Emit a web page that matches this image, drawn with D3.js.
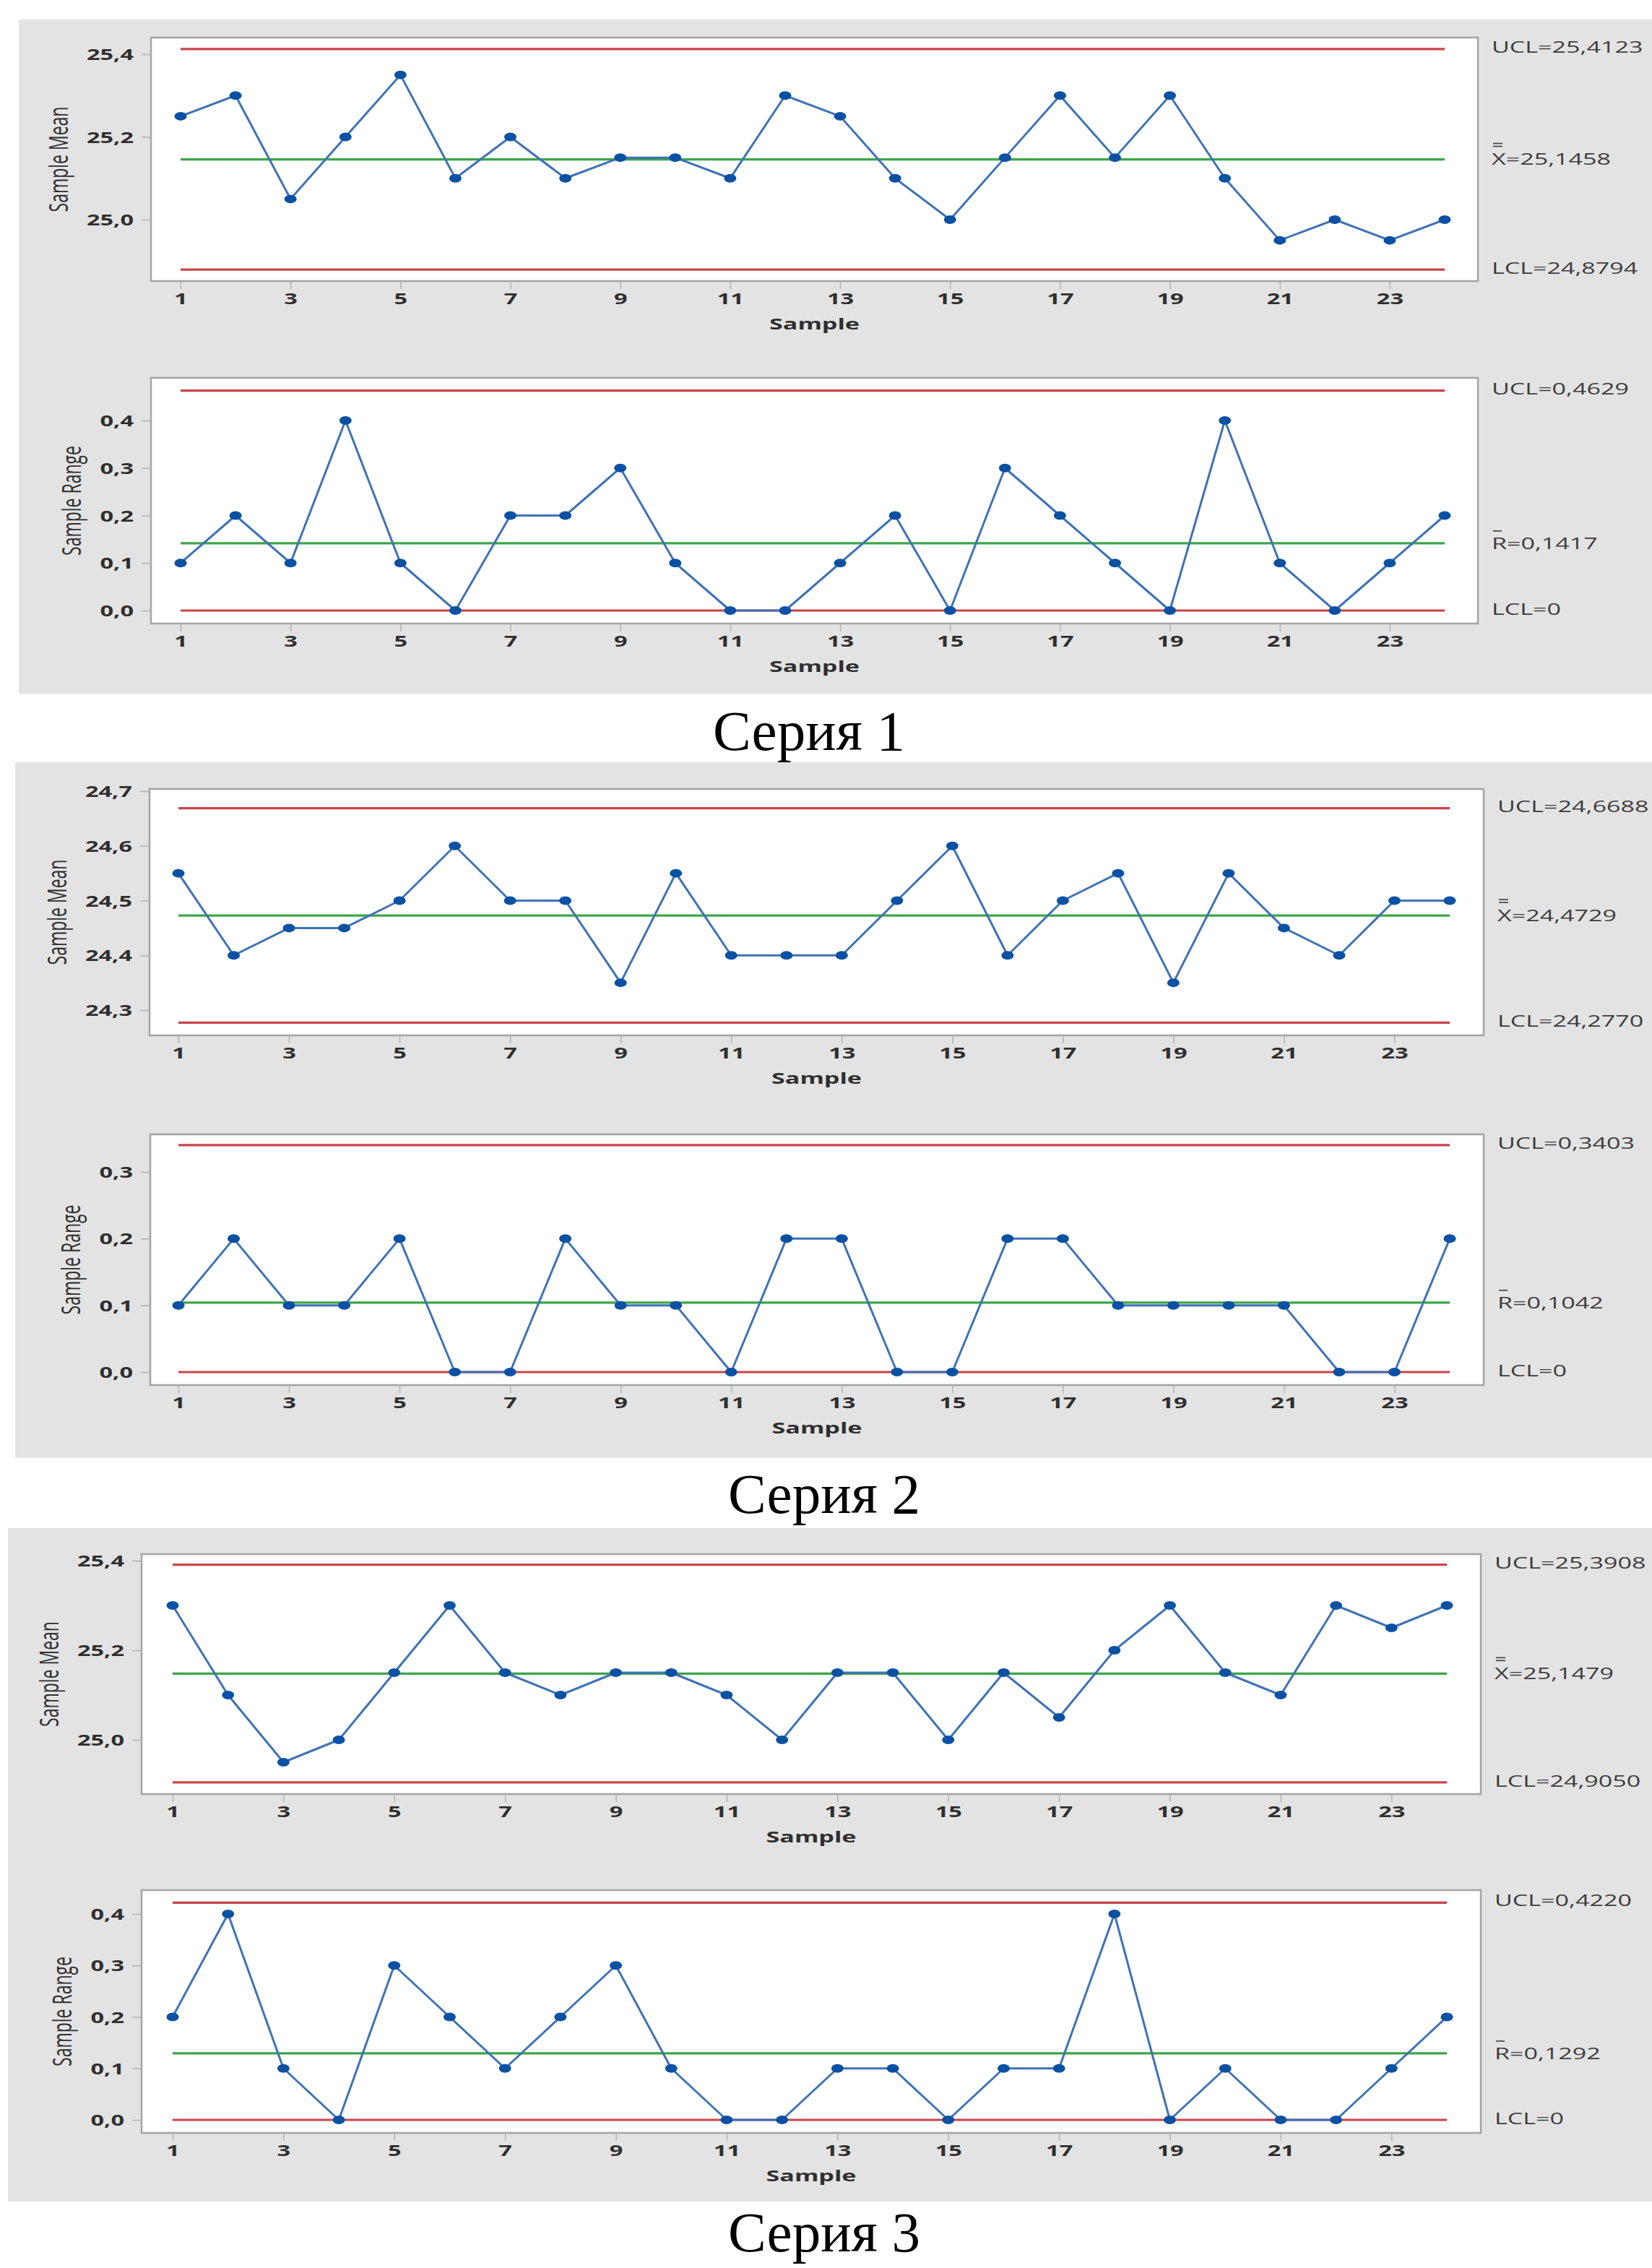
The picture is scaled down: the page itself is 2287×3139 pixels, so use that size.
<!DOCTYPE html>
<html>
<head>
<meta charset="utf-8">
<script src="https://cdn.jsdelivr.net/npm/d3@7"></script>
<style>
  html, body { margin: 0; padding: 0; background: #ffffff; }
  svg { display: block; }
</style>
</head>
<body>
<script>
// ---- Data: Xbar-R charts for three production series, 24 subgroups each ----
const sampleNumbers = d3.range(1, 25);
const sampleTicks = [1, 3, 5, 7, 9, 11, 13, 15, 17, 19, 21, 23];

const series1Means  = [25.25, 25.30, 25.05, 25.20, 25.35, 25.10, 25.20, 25.10, 25.15, 25.15, 25.10, 25.30,
                       25.25, 25.10, 25.00, 25.15, 25.30, 25.15, 25.30, 25.10, 24.95, 25.00, 24.95, 25.00];
const series1Ranges = [0.1, 0.2, 0.1, 0.4, 0.1, 0.0, 0.2, 0.2, 0.3, 0.1, 0.0, 0.0,
                       0.1, 0.2, 0.0, 0.3, 0.2, 0.1, 0.0, 0.4, 0.1, 0.0, 0.1, 0.2];

const series2Means  = [24.55, 24.40, 24.45, 24.45, 24.50, 24.60, 24.50, 24.50, 24.35, 24.55, 24.40, 24.40,
                       24.40, 24.50, 24.60, 24.40, 24.50, 24.55, 24.35, 24.55, 24.45, 24.40, 24.50, 24.50];
const series2Ranges = [0.1, 0.2, 0.1, 0.1, 0.2, 0.0, 0.0, 0.2, 0.1, 0.1, 0.0, 0.2,
                       0.2, 0.0, 0.0, 0.2, 0.2, 0.1, 0.1, 0.1, 0.1, 0.0, 0.0, 0.2];

const series3Means  = [25.30, 25.10, 24.95, 25.00, 25.15, 25.30, 25.15, 25.10, 25.15, 25.15, 25.10, 25.00,
                       25.15, 25.15, 25.00, 25.15, 25.05, 25.20, 25.30, 25.15, 25.10, 25.30, 25.25, 25.30];
const series3Ranges = [0.2, 0.4, 0.1, 0.0, 0.3, 0.2, 0.1, 0.2, 0.3, 0.1, 0.0, 0.0,
                       0.1, 0.1, 0.0, 0.1, 0.1, 0.4, 0.0, 0.1, 0.0, 0.0, 0.1, 0.2];

// Control limits: [UCL, centre line, LCL]
const series1MeanLimits  = [25.4123, 25.1458, 24.8794];
const series1RangeLimits = [0.4629, 0.1417, 0];
const series2MeanLimits  = [24.6688, 24.4729, 24.2770];
const series2RangeLimits = [0.3403, 0.1042, 0];
const series3MeanLimits  = [25.3908, 25.1479, 24.9050];
const series3RangeLimits = [0.4220, 0.1292, 0];

// Y tick values
const series1MeanTicks  = [25.0, 25.2, 25.4];
const series1RangeTicks = [0.0, 0.1, 0.2, 0.3, 0.4];
const series2MeanTicks  = [24.3, 24.4, 24.5, 24.6, 24.7];
const series2RangeTicks = [0.0, 0.1, 0.2, 0.3];
const series3MeanTicks  = [25.0, 25.2, 25.4];
const series3RangeTicks = [0.0, 0.1, 0.2, 0.3, 0.4];

const captions = ["Серия 1", "Серия 2", "Серия 3"];
const xAxisTitle = "Sample";
const meanTitle = "Sample Mean";
const rangeTitle = "Sample Range";

// ---- Layout ----
const W = 2287, H = 3139;
const STRETCH = 1.55;              // the chart graphics are wider than tall
const FONT = "'Open Sans', 'DejaVu Sans', sans-serif";
const COL = {
  panel: "#e3e3e3", frame: "#a4a4a4", tick: "#b2b2b2", text: "#2f2f2f", label: "#3d3d3d",
  limit: "#c8454a", centre: "#3da54a", line: "#3f72b6", marker: "#0b51a3"
};

const layout = [
  { panel: [26, 27, 2287, 960], caption: [1120, 1038],
    charts: [
      { frame: [209, 52, 2046, 389],   xEnds: [250, 2000], yRef: [25.0, 304, 25.4, 75] },
      { frame: [209, 523, 2046, 863],  xEnds: [250, 2000], yRef: [0.0, 845, 0.4, 582] }
    ] },
  { panel: [21, 1055, 2287, 2018], caption: [1141, 2094],
    charts: [
      { frame: [207, 1092, 2054, 1433], xEnds: [247, 2007], yRef: [24.3, 1398, 24.7, 1095] },
      { frame: [208, 1570, 2054, 1917], xEnds: [247, 2007], yRef: [0.0, 1899, 0.3, 1622] }
    ] },
  { panel: [11, 2115, 2287, 3047], caption: [1141, 3116],
    charts: [
      { frame: [196, 2151, 2050, 2483], xEnds: [239, 2003], yRef: [25.0, 2408, 25.4, 2160] },
      { frame: [196, 2616, 2050, 2952], xEnds: [239, 2003], yRef: [0.0, 2934, 0.4, 2649] }
    ] }
];

const seriesData = [
  [ { values: series1Means,  limits: series1MeanLimits,  ticks: series1MeanTicks,  kind: "mean" },
    { values: series1Ranges, limits: series1RangeLimits, ticks: series1RangeTicks, kind: "range" } ],
  [ { values: series2Means,  limits: series2MeanLimits,  ticks: series2MeanTicks,  kind: "mean" },
    { values: series2Ranges, limits: series2RangeLimits, ticks: series2RangeTicks, kind: "range" } ],
  [ { values: series3Means,  limits: series3MeanLimits,  ticks: series3MeanTicks,  kind: "mean" },
    { values: series3Ranges, limits: series3RangeLimits, ticks: series3RangeTicks, kind: "range" } ]
];

// Decimal comma formatting
const locale = d3.formatLocale({ decimal: ",", thousands: " ", grouping: [3], currency: ["", ""] });
const fmt1 = locale.format(".1f");
const fmt4 = locale.format(".4f");
const fmtLimit = v => v === 0 ? "0" : fmt4(v);

const svg = d3.select("body").append("svg")
  .attr("width", W).attr("height", H)
  .attr("viewBox", `0 0 ${W} ${H}`);

svg.append("rect").attr("width", W).attr("height", H).attr("fill", "#ffffff");

function stretchedText(g, x, y, str, opts) {
  return g.append("text")
    .attr("transform", `translate(${x},${y}) scale(${STRETCH},1)` + (opts.rotate ? " rotate(-90)" : ""))
    .attr("text-anchor", opts.anchor || "middle")
    .attr("dy", "0.36em")
    .attr("font-family", FONT)
    .attr("font-size", opts.size)
    .attr("font-weight", opts.weight || "normal")
    .attr("fill", opts.fill || COL.text)
    .text(str);
}

function drawChart(g, L, d) {
  const [fx0, fy0, fx1, fy1] = L.frame;
  const x = d3.scaleLinear().domain([1, 24]).range(L.xEnds);
  const y = d3.scaleLinear().domain([L.yRef[0], L.yRef[2]]).range([L.yRef[1], L.yRef[3]]);

  // Plot area
  g.append("rect")
    .attr("x", fx0).attr("y", fy0)
    .attr("width", fx1 - fx0).attr("height", fy1 - fy0)
    .attr("fill", "#ffffff").attr("stroke", COL.frame).attr("stroke-width", 2.5);

  // Y axis
  const ya = g.append("g").attr("transform", `translate(${fx0},0)`)
    .call(d3.axisLeft(y).tickValues(d.ticks).tickSize(13).tickFormat(fmt1));
  ya.select(".domain").remove();
  ya.selectAll(".tick line").attr("stroke", COL.tick).attr("stroke-width", 1.5);
  ya.selectAll(".tick text")
    .attr("x", null).attr("dy", "0.36em")
    .attr("transform", `translate(-24,0) scale(${STRETCH},1)`)
    .attr("font-family", FONT).attr("font-size", 21).attr("font-weight", "bold")
    .attr("fill", COL.text).attr("text-anchor", "end");

  // X axis
  const xa = g.append("g").attr("transform", `translate(0,${fy1})`)
    .call(d3.axisBottom(x).tickValues(sampleTicks).tickSize(11).tickFormat(d3.format("d")));
  xa.select(".domain").remove();
  xa.selectAll(".tick line").attr("stroke", COL.tick).attr("stroke-width", 1.5);
  xa.selectAll(".tick text")
    .attr("y", null).attr("dy", "0.36em")
    .attr("transform", `translate(0,24) scale(${STRETCH},1)`)
    .attr("font-family", FONT).attr("font-size", 21).attr("font-weight", "bold")
    .attr("fill", COL.text);

  // Control limits and centre line
  const [ucl, cl, lcl] = d.limits;
  [[ucl, COL.limit], [cl, COL.centre], [lcl, COL.limit]].forEach(([v, c]) => {
    g.append("line")
      .attr("x1", x(1)).attr("x2", x(24))
      .attr("y1", y(v)).attr("y2", y(v))
      .attr("stroke", c).attr("stroke-width", 3.2);
  });

  // Subgroup statistic
  const line = d3.line().x((v, i) => x(sampleNumbers[i])).y(v => y(v));
  g.append("path").datum(d.values)
    .attr("d", line).attr("fill", "none")
    .attr("stroke", COL.line).attr("stroke-width", 3).attr("stroke-linejoin", "round");
  g.selectAll("ellipse.pt").data(d.values).enter().append("ellipse")
    .attr("class", "pt")
    .attr("cx", (v, i) => x(sampleNumbers[i])).attr("cy", v => y(v))
    .attr("rx", 8.5).attr("ry", 6)
    .attr("fill", COL.marker);

  // Limit labels on the right
  const lx = fx1 + 19;
  stretchedText(g, lx, y(ucl) - 3, "UCL=" + fmtLimit(ucl), { size: 22, anchor: "start", fill: COL.label });
  stretchedText(g, lx, y(lcl) - 2, "LCL=" + fmtLimit(lcl), { size: 22, anchor: "start", fill: COL.label });
  const clY = y(cl);
  if (d.kind === "mean") {
    stretchedText(g, lx, clY, "X=" + fmtLimit(cl), { size: 22, anchor: "start", fill: COL.label });
    [-22, -18].forEach(o => g.append("line")
      .attr("x1", lx + 2).attr("x2", lx + 15).attr("y1", clY + o).attr("y2", clY + o)
      .attr("stroke", COL.label).attr("stroke-width", 1.6));
  } else {
    stretchedText(g, lx, clY, "R=" + fmtLimit(cl), { size: 22, anchor: "start", fill: COL.label });
    g.append("line")
      .attr("x1", lx + 2).attr("x2", lx + 14).attr("y1", clY - 17).attr("y2", clY - 17)
      .attr("stroke", COL.label).attr("stroke-width", 1.6);
  }

  // Axis titles
  stretchedText(g, (fx0 + fx1) / 2, fy1 + 59, xAxisTitle, { size: 22, weight: "bold" });
  const titleX = d.kind === "mean" ? fx0 - 128 : fx0 - 110;
  stretchedText(g, titleX, (fy0 + fy1) / 2, d.kind === "mean" ? meanTitle : rangeTitle,
    { size: 23, rotate: true, fill: COL.text });
}

layout.forEach((P, pi) => {
  const g = svg.append("g");
  const [px0, py0, px1, py1] = P.panel;
  g.append("rect").attr("x", px0).attr("y", py0)
    .attr("width", px1 - px0).attr("height", py1 - py0).attr("fill", COL.panel);
  P.charts.forEach((L, ci) => drawChart(g.append("g"), L, seriesData[pi][ci]));
  svg.append("text")
    .attr("x", P.caption[0]).attr("y", P.caption[1])
    .attr("text-anchor", "middle")
    .attr("font-family", "'Liberation Serif', 'Times New Roman', serif")
    .attr("font-size", 79).attr("fill", "#000")
    .text(captions[pi]);
});
</script>
</body>
</html>
